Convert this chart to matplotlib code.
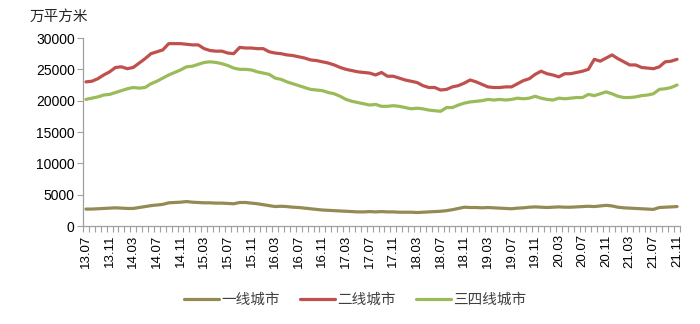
import matplotlib
matplotlib.use("Agg")
import matplotlib.pyplot as plt
import numpy as np

# months 13.07 .. 21.11 (101 monthly points)
months = []
y, m = 13, 7
while (y, m) <= (21, 11):
    months.append(f"{y:02d}.{m:02d}")
    m += 1
    if m > 12:
        m = 1
        y += 1

tier1 = [2700, 2700, 2750, 2800, 2850, 2900, 2850, 2800, 2800, 2950,
         3100, 3250, 3350, 3450, 3700, 3750, 3800, 3900, 3800, 3750,
         3700, 3700, 3650, 3650, 3600, 3550, 3750, 3750, 3650, 3550,
         3400, 3250, 3100, 3150, 3100, 3000, 2950, 2850, 2750, 2650,
         2550, 2500, 2450, 2400, 2350, 2300, 2250, 2250, 2300, 2250,
         2300, 2250, 2250, 2200, 2200, 2200, 2150, 2200, 2250, 2300,
         2350, 2450, 2600, 2800, 3000, 2950, 2950, 2900, 2950, 2900,
         2850, 2800, 2750, 2850, 2900, 3000, 3050, 3000, 2950, 3000,
         3050, 3000, 3000, 3050, 3100, 3150, 3100, 3200, 3300, 3200,
         3000, 2900, 2850, 2800, 2750, 2700, 2650, 2950, 3000, 3050,
         3100]

tier2 = [23000, 23100, 23500, 24100, 24600, 25300, 25400, 25100, 25300, 26000,
         26700, 27500, 27800, 28100, 29100, 29100, 29100, 29000, 28900, 28900,
         28300, 28000, 27900, 27900, 27600, 27500, 28500, 28400, 28400, 28300,
         28300, 27800, 27600, 27500, 27300, 27200, 27000, 26800, 26500, 26400,
         26200, 26000, 25700, 25300, 25000, 24800, 24600, 24500, 24400, 24100,
         24500, 23900, 23900, 23600, 23300, 23100, 22900, 22400, 22100, 22100,
         21700, 21800, 22200, 22400, 22800, 23300, 23000, 22600, 22200, 22100,
         22100, 22200, 22200, 22700, 23200, 23500, 24200, 24700, 24300, 24100,
         23800, 24300, 24300, 24500, 24700, 25000, 26600, 26300, 26800, 27300,
         26700, 26200, 25700, 25700, 25300, 25200, 25100, 25400, 26200, 26300,
         26600]

tier34 = [20200, 20400, 20600, 20900, 21000, 21300, 21600, 21900, 22100, 22000,
          22100, 22700, 23100, 23600, 24100, 24500, 24900, 25400, 25500, 25800,
          26100, 26200, 26100, 25900, 25600, 25200, 25000, 25000, 24900, 24600,
          24400, 24200, 23600, 23400, 23000, 22700, 22400, 22100, 21800, 21700,
          21600, 21300, 21100, 20700, 20200, 19900, 19700, 19500, 19300, 19400,
          19100, 19100, 19200, 19100, 18900, 18700, 18800, 18700, 18500, 18400,
          18300, 18900, 18900, 19300, 19600, 19800, 19900, 20000, 20200, 20100,
          20200, 20100, 20200, 20400, 20300, 20400, 20700, 20400, 20200, 20100,
          20400, 20300, 20400, 20500, 20500, 21000, 20800, 21100, 21400, 21100,
          20700, 20500, 20500, 20600, 20800, 20900, 21100, 21800, 21900, 22100,
          22500]

series_names = ["一线城市", "二线城市", "三四线城市"]
colors = ["#948A54", "#C0504D", "#9BBB59"]
yticks = [0, 5000, 10000, 15000, 20000, 25000, 30000]

plt.rcParams['font.family'] = ['Liberation Sans', 'Noto Sans CJK SC', 'DejaVu Sans']

fig = plt.figure(figsize=(7.0, 3.24), dpi=100)
ax = fig.add_axes([83/700, 1-226/324, (680-83)/700, (226-38)/324])

x = np.arange(len(months))
for vals, name, c in zip([tier1, tier2, tier34], series_names, colors):
    ax.plot(x, vals, color=c, lw=2.3, label=name, solid_capstyle='round')

ax.set_xlim(-0.5, len(months) - 0.5)
ax.set_ylim(0, 30000)
ax.set_yticks(yticks)
ax.set_yticklabels([str(v) for v in yticks], fontsize=10, color='#000000')

ax.set_xticks(x[::4])
ax.set_xticklabels(months[::4], rotation=90, fontsize=9.5, color='#000000')
ax.set_xticks(np.arange(len(months) + 1) - 0.5, minor=True)
ax.tick_params(axis='x', which='major', length=0, pad=6)
ax.tick_params(axis='x', which='minor', length=4, color='#A0A0A0', width=0.8)
ax.tick_params(axis='y', which='major', length=4, color='#A0A0A0', width=0.8, pad=2)

for s in ['top', 'right']:
    ax.spines[s].set_visible(False)
for s in ['left', 'bottom']:
    ax.spines[s].set_color('#A0A0A0')
    ax.spines[s].set_linewidth(0.9)

fig.text(30/700, 1-17/324, "万平方米", fontsize=10.5, family=['Noto Sans CJK SC'],
         va='center', ha='left', color='#262626')

leg = fig.legend(loc='center', bbox_to_anchor=(355/700, 24/324), ncol=3, frameon=False,
                 prop={'family': ['Noto Sans CJK SC'], 'size': 10.5},
                 handlelength=2.4, handletextpad=0.15, columnspacing=1.4)
for t in leg.get_texts():
    t.set_color('#404040')

fig.savefig("out.png", dpi=100)
